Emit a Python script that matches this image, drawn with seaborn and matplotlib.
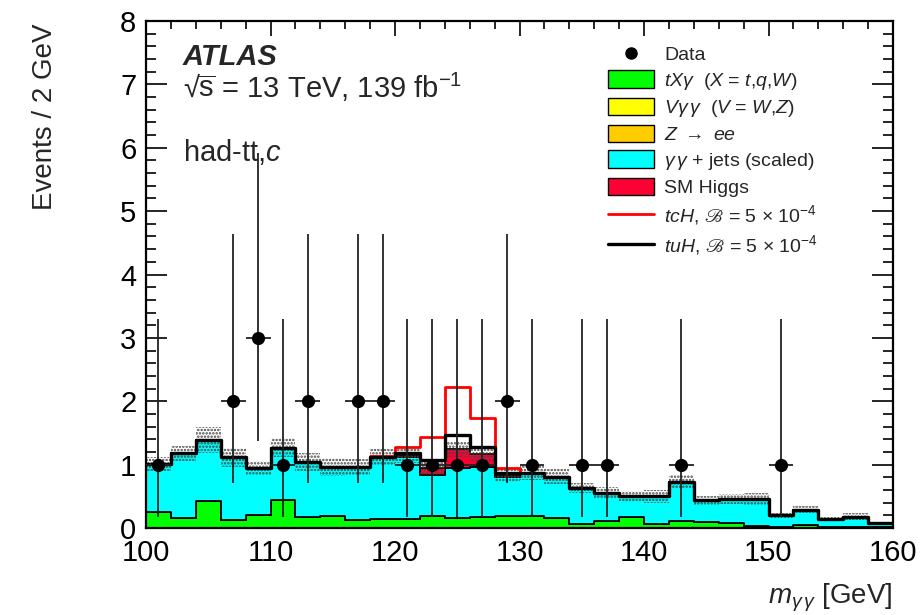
import numpy as np
import pandas as pd
import matplotlib
matplotlib.use("Agg")
import matplotlib.pyplot as plt
import seaborn as sns
from matplotlib.patches import Patch
from matplotlib.lines import Line2D
from matplotlib.ticker import MultipleLocator

# ---------------- data ----------------
bin_edges = list(range(100, 162, 2))          # m_yy bins, 2 GeV wide
bin_centers = [e + 1 for e in bin_edges[:-1]]

# stacked background components (events / bin)
t_x_gamma = [0.26, 0.15, 0.42, 0.12, 0.21, 0.44, 0.18, 0.19, 0.12, 0.14,
             0.14, 0.19, 0.15, 0.17, 0.19, 0.19, 0.15, 0.06, 0.11, 0.18,
             0.06, 0.11, 0.09, 0.08, 0.03, 0.02, 0.04, 0.02, 0.01, 0.01]
v_gamma_gamma = [0.0] * 30
z_to_ee = [0.0] * 30
sm_higgs = [0.0, 0.0, 0.0, 0.0, 0.0, 0.0, 0.0, 0.0, 0.0, 0.01,
            0.03, 0.12, 0.30, 0.19, 0.04, 0.01, 0.0, 0.0, 0.0, 0.0,
            0.0, 0.0, 0.0, 0.0, 0.0, 0.0, 0.0, 0.0, 0.0, 0.0]
total_bkg = [1.01, 1.18, 1.39, 1.12, 0.94, 1.27, 1.04, 0.96, 0.96, 1.12,
             1.15, 0.95, 1.24, 1.16, 0.84, 0.87, 0.81, 0.63, 0.56, 0.50,
             0.50, 0.73, 0.44, 0.46, 0.46, 0.20, 0.29, 0.14, 0.18, 0.08]
gamma_gamma_jets = [round(t - g - y - z - h, 3) for t, g, y, z, h in
                    zip(total_bkg, t_x_gamma, v_gamma_gamma, z_to_ee, sm_higgs)]
bkg_uncertainty = [0.11, 0.12, 0.20, 0.15, 0.11, 0.15, 0.14, 0.14, 0.13, 0.13,
                   0.12, 0.13, 0.12, 0.12, 0.11, 0.11, 0.12, 0.08, 0.08, 0.09,
                   0.10, 0.10, 0.07, 0.08, 0.10, 0.04, 0.06, 0.03, 0.05, 0.02]

# signals (B = 5e-4), stacked on top of total background
signal_tcH = [0.0] * 9 + [0.01, 0.13, 0.48, 0.99, 0.57, 0.11] + [0.0] * 15
signal_tuH = [0.0] * 10 + [0.04, 0.12, 0.23, 0.12, 0.03] + [0.0] * 15

# data
data_mass = [101, 107, 109, 111, 113, 117, 119, 121, 123, 125, 127, 129,
             131, 135, 137, 143, 151]
data_events = [1, 2, 3, 1, 2, 2, 2, 1, 1, 1, 1, 2, 1, 1, 1, 1, 1]
# Poisson (Garwood) 68% intervals for n = 1, 2, 3
poisson_low = {1: 0.827, 2: 1.291, 3: 1.633}
poisson_high = {1: 2.300, 2: 2.638, 3: 2.918}

process_names = ["tXy", "Vyy", "Zee", "yyjets", "SMH"]
process_colors = ["#00FF00", "#FFFF00", "#FFCC00", "#00FFFF", "#FF0033"]
process_values = [t_x_gamma, v_gamma_gamma, z_to_ee, gamma_gamma_jets, sm_higgs]
legend_labels = [r"$tX\gamma$  ($X$ = $t$,$q$,$W$)",
                 r"$V\gamma\,\gamma$  ($V$ = $W$,$Z$)",
                 r"$Z$ $\rightarrow$ $ee$",
                 r"$\gamma\,\gamma$ + jets (scaled)",
                 "SM Higgs"]

# ---------------- style ----------------
sns.set_style("ticks")
plt.rcParams["font.family"] = ["Liberation Sans", "DejaVu Sans"]
plt.rcParams["mathtext.fontset"] = "custom"
plt.rcParams["mathtext.rm"] = "Liberation Sans"
plt.rcParams["mathtext.it"] = "Liberation Sans:italic"
plt.rcParams["mathtext.bf"] = "Liberation Sans:bold"
plt.rcParams["mathtext.fallback"] = "stix"
plt.rcParams["hatch.linewidth"] = 1.2

fig = plt.figure(figsize=(9.22, 6.15), dpi=100)
ax = fig.add_axes([146 / 922, 87 / 615, 747 / 922, 507 / 615])

# stacked backgrounds
rows = []
for name, vals in zip(process_names, process_values):
    for c, v in zip(bin_centers, vals):
        rows.append({"myy": c, "events": v, "process": name})
df = pd.DataFrame(rows)

# seaborn stacks the last hue level at the bottom -> reverse order
sns.histplot(data=df, x="myy", weights="events", hue="process",
             hue_order=process_names[::-1], multiple="stack", bins=bin_edges,
             element="step", fill=True, alpha=1,
             palette=dict(zip(process_names, process_colors)),
             edgecolor="black", linewidth=1.3, legend=False, ax=ax, zorder=1)

# uncertainty band
edges = np.array(bin_edges, dtype=float)
tb = np.array(total_bkg)
unc = np.array(bkg_uncertainty)
ax.fill_between(edges, np.append(tb - unc, tb[-1] - unc[-1]),
                np.append(tb + unc, tb[-1] + unc[-1]), step="post",
                facecolor="none", edgecolor="#444444", hatch=".....",
                linewidth=0, zorder=2)

# signal lines
tcH_line = [t + s for t, s in zip(total_bkg, signal_tcH)]
tuH_line = [t + s for t, s in zip(total_bkg, signal_tuH)]
sns.histplot(x=bin_centers, weights=tcH_line, bins=bin_edges, element="step",
             fill=False, color="#FF0000", linewidth=2.0, ax=ax, zorder=3)
sns.histplot(x=bin_centers, weights=tuH_line, bins=bin_edges, element="step",
             fill=False, color="black", linewidth=2.4, ax=ax, zorder=4)

# data with Poisson errors
ylo = [poisson_low[n] for n in data_events]
yhi = [poisson_high[n] for n in data_events]
ax.errorbar(data_mass, data_events, yerr=[ylo, yhi], xerr=1.0, fmt="none",
            ecolor="#222222", elinewidth=1.3, capsize=0, zorder=5)
sns.scatterplot(x=data_mass, y=data_events, color="black", s=90,
                marker="o", edgecolor="black", linewidth=0, ax=ax, zorder=6)

# axes
ax.set_xlim(100, 160)
ax.set_ylim(0, 8)
ax.xaxis.set_major_locator(MultipleLocator(10))
ax.xaxis.set_minor_locator(MultipleLocator(2))
ax.yaxis.set_major_locator(MultipleLocator(1))
ax.yaxis.set_minor_locator(MultipleLocator(0.2))
ax.tick_params(which="both", direction="in", top=True, right=True,
               colors="black")
ax.tick_params(axis="x", which="major", length=11, width=1.2,
               labelsize=21, pad=8)
ax.tick_params(axis="x", which="minor", length=5.5, width=1.2)
ax.tick_params(axis="y", which="major", length=15, width=1.2,
               labelsize=21, pad=7)
ax.tick_params(axis="y", which="minor", length=7.5, width=1.2)
for s in ax.spines.values():
    s.set_linewidth(1.6)
    s.set_color("black")

ax.set_xlabel(r"$m_{\gamma\,\gamma}$ [GeV]", fontsize=20, loc="right")
ax.xaxis.set_label_coords(1.0, -0.105)
ax.set_ylabel("Events / 2 GeV", fontsize=20, loc="top")
ax.yaxis.set_label_coords(-0.118, 0.995)

# annotations
ax.text(0.0495, 0.913, "ATLAS", transform=ax.transAxes, fontsize=21,
        fontweight="bold", fontstyle="italic")
ax.text(0.0495, 0.848, r"√$\overline{\mathrm{s}}$ = 13 TeV, 139 fb$^{\mathrm{-1}}$",
        transform=ax.transAxes, fontsize=21)
ax.text(0.0495, 0.724, r"had-tt,$c$", transform=ax.transAxes, fontsize=21)

# legend
handles = [Line2D([], [], color="black", marker="o", linestyle="none",
                  markersize=8)]
for col in process_colors:
    handles.append(Patch(facecolor=col, edgecolor="black", linewidth=1.0))
handles.append(Line2D([], [], color="#FF0000", linewidth=2))
handles.append(Line2D([], [], color="black", linewidth=2.4))
labels = (["Data"] + legend_labels +
          [r"$tcH$, $ℬ$ = 5 × 10$^{-4}$", r"$tuH$, $ℬ$ = 5 × 10$^{-4}$"])
ax.legend(handles, labels, loc="upper left", bbox_to_anchor=(0.618, 0.953),
          frameon=False, fontsize=14, handlelength=2.4, handleheight=1.0,
          handletextpad=0.5, labelspacing=0.31, borderpad=0, borderaxespad=0)

fig.savefig("out.png", dpi=100)
